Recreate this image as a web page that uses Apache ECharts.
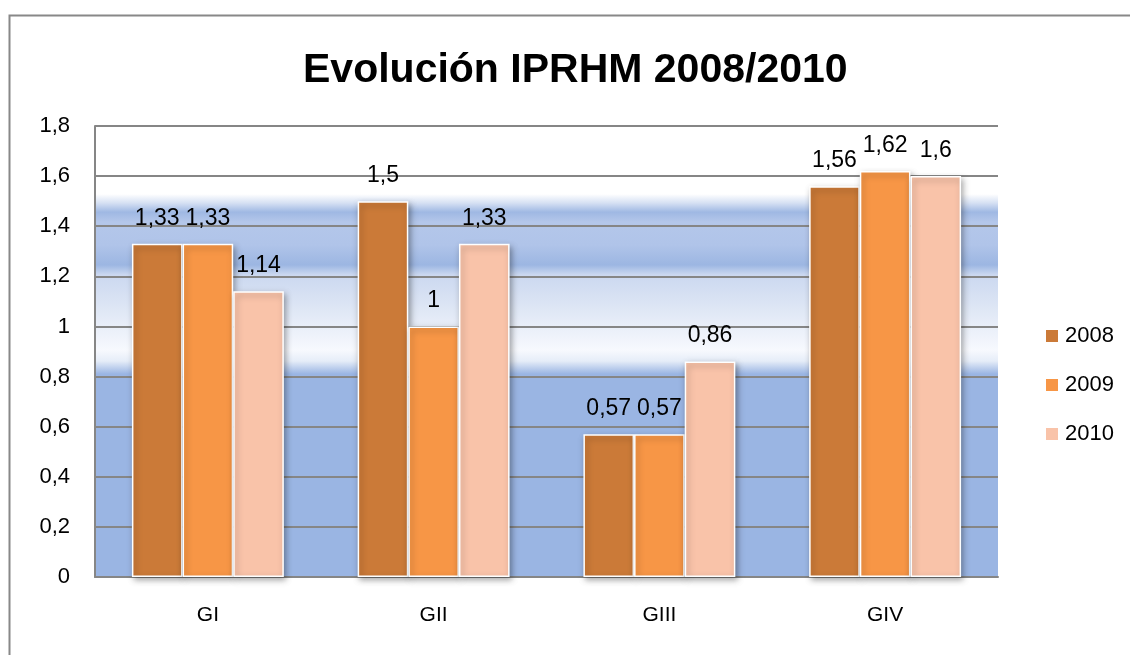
<!DOCTYPE html>
<html>
<head>
    <meta charset="utf-8">
    <script type="text/javascript" src="https://cdn.jsdelivr.net/npm/echarts@6/dist/echarts.min.js"></script>
    <title>Evolución IPRHM 2008/2010</title>
    <style>
        html, body { margin: 0; padding: 0; background: #fff; }
        #chart { width: 1130px; height: 655px; }
    </style>
</head>
<body>
<div id="chart"></div>
<script type="text/javascript">
    // datos del grafico
    var categories = ['GI', 'GII', 'GIII', 'GIV'];
    var years = ['2008', '2009', '2010'];
    var values2008 = [1.33, 1.5, 0.57, 1.56];
    var values2009 = [1.33, 1, 0.57, 1.62];
    var values2010 = [1.14, 1.33, 0.86, 1.6];
    var colors = ['#CB7A38', '#F79646', '#F9C3A9'];

    var font = '"Liberation Sans", Arial, sans-serif';

    function coma(v) {
        return String(+(+v).toFixed(2)).replace('.', ',');
    }

    // fondo del area de trazado (degradado tipo Excel)
    var fondo = {
        type: 'linear', x: 0, y: 0, x2: 0, y2: 1,
        colorStops: [
            {offset: 0, color: '#ffffff'},
            {offset: 0.151, color: '#ffffff'},
            {offset: 0.171, color: '#d5e0f3'},
            {offset: 0.191, color: '#9fb8e3'},
            {offset: 0.213, color: '#b4c7ea'},
            {offset: 0.264, color: '#b0c4e9'},
            {offset: 0.308, color: '#9cb6e2'},
            {offset: 0.330, color: '#cbd8f0'},
            {offset: 0.408, color: '#dfe7f5'},
            {offset: 0.497, color: '#f7f9fe'},
            {offset: 0.521, color: '#e6edf8'},
            {offset: 0.55, color: '#9ab5e3'},
            {offset: 1, color: '#9ab5e3'}
        ]
    };

    function serie(name, data, i) {
        return {
            name: name,
            type: 'bar',
            data: data,
            barGap: '0%',
            barCategoryGap: '32.7%',
            itemStyle: {
                color: colors[i],
                borderColor: '#ffffff',
                borderWidth: 1.5,
                shadowColor: 'rgba(0,0,0,0.35)',
                shadowBlur: 6,
                shadowOffsetX: 2,
                shadowOffsetY: 3
            },
            label: {
                show: true,
                position: 'top',
                distance: 14,
                color: '#000',
                fontFamily: font,
                fontSize: 23,
                formatter: function (p) { return coma(p.value); }
            }
        };
    }

    var myChart = echarts.init(document.getElementById('chart'));
    var option = {
        animation: false,
        backgroundColor: '#ffffff',
        title: {
            text: 'Evolución IPRHM 2008/2010',
            left: 298,
            top: 45,
            textStyle: {
                fontFamily: font,
                fontWeight: 'bold',
                fontSize: 41,
                color: '#000'
            }
        },
        graphic: [{
            type: 'rect',
            left: 7,
            top: 13,
            shape: {width: 1200, height: 700},
            style: {fill: 'none', stroke: '#888888', lineWidth: 2},
            silent: true
        }],
        legend: {
            orient: 'vertical',
            left: 1039,
            top: 320,
            itemWidth: 14,
            itemHeight: 14,
            itemGap: 27,
            icon: 'rect',
            data: years,
            textStyle: {
                fontFamily: font,
                fontSize: 22,
                lineHeight: 22,
                color: '#000',
                padding: [0, 0, 0, 1]
            }
        },
        grid: {
            left: 95,
            right: 132,
            top: 126,
            bottom: 78,
            show: true,
            borderWidth: 0,
            backgroundColor: fondo
        },
        xAxis: {
            type: 'category',
            data: categories,
            axisLine: {lineStyle: {color: '#868686', width: 2}},
            axisTick: {show: false},
            axisLabel: {
                margin: 28,
                color: '#000',
                fontFamily: font,
                fontSize: 21
            }
        },
        yAxis: {
            type: 'value',
            min: 0,
            max: 1.8,
            interval: 0.2,
            axisLine: {show: true, lineStyle: {color: '#868686', width: 2}},
            axisTick: {show: false},
            splitLine: {lineStyle: {color: '#868686', width: 2}},
            axisLabel: {
                margin: 25,
                color: '#000',
                fontFamily: font,
                fontSize: 22,
                formatter: coma
            }
        },
        series: [
            serie(years[0], values2008, 0),
            serie(years[1], values2009, 1),
            serie(years[2], values2010, 2)
        ]
    };
    myChart.setOption(option);
</script>
</body>
</html>
